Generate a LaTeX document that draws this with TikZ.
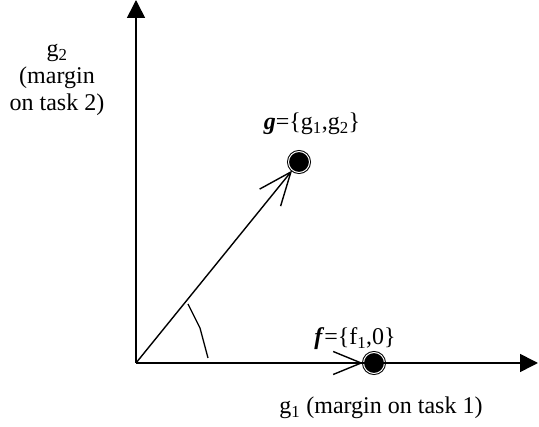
\documentclass[tikz,border=0pt]{standalone}
\usepackage{fontspec}
\setmainfont{Liberation Serif}
\usetikzlibrary{arrows.meta,positioning}
\tikzset{
      axis/.style   = {black, line width=1.6pt, -{Triangle[length=18pt,width=18pt]}},
      vec/.style    = {black, line width=1.4pt, -{Straight Barb[length=33pt,width=27pt,line width=1.4pt]}},
      vecf/.style   = {black, line width=1.4pt, -{Straight Barb[length=28pt,width=23pt,line width=1.4pt]}},
      dot/.style    = {circle, fill=black, draw=black, double=white, double distance=1pt,
                       line width=1pt, minimum size=21pt, inner sep=0pt},
      lbl/.style    = {font=\fontsize{24}{27}\selectfont, inner sep=0pt, align=center},
      anglemark/.style = {black, line width=1.3pt},
    }
\begin{document}
\begin{tikzpicture}[x=1pt, y=-1pt]
    \useasboundingbox (0,0) rectangle (539,427);
    \coordinate (o) at (136,363);
    \coordinate (xend) at (538,363);
    \coordinate (yend) at (136,0);
    \coordinate (fstart) at (300,363);
    \node [dot] (g) at (299,162) {};
    \node [dot] (f) at (374,363) {};

    % axes
    \draw [axis] (o) -- (xend);
    \draw [axis] (o) -- (yend);

    % vectors
    \draw [vec] (o) -- (g);
    \draw [vecf] (fstart) -- (f);

    % angle
    \draw [anglemark] (188,304) -- (200,328) -- (208,358);

    % labels
    \node [lbl] (g2lbl) at (57,80) {g\textsubscript{2}\\(margin\\on task 2)};
    \node [lbl] (glbl) at (312,124) {\textbf{\textit{g}}=\{g\textsubscript{1},g\textsubscript{2}\}};
    \node [lbl] (flbl) at (355,339) {\textbf{\textit{f}}=\{f\textsubscript{1},0\}};
    \node [lbl] (g1lbl) at (381,408) {g\textsubscript{1} (margin on task 1)};
\end{tikzpicture}
\end{document}
